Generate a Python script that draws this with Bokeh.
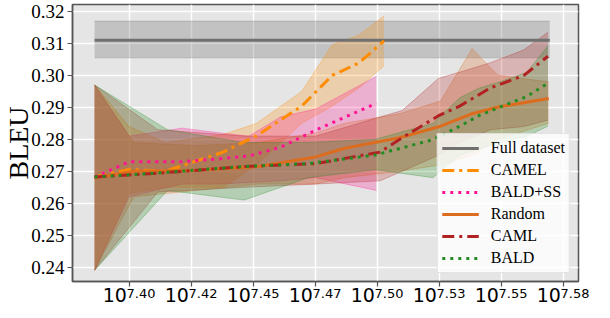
import json
from bokeh.plotting import figure
from bokeh.models import (FixedTicker, NumeralTickFormatter, Legend, LegendItem, Range1d,
                          LinearAxis, CustomJSTickFormatter)
from bokeh.embed import file_html
from bokeh.resources import INLINE

# x values are log10(number of training tokens)
full_x = [7.3861, 7.5696]
full_mean = [0.3110, 0.3110]
full_lo = [0.3055, 0.3055]
full_hi = [0.3170, 0.3170]

camel_x = [7.3861, 7.4000, 7.4147, 7.4379, 7.4514, 7.4696, 7.4819, 7.4927, 7.5028]
camel_mean = [0.2682, 0.2706, 0.2700, 0.2760, 0.2811, 0.2904, 0.3000, 0.3039, 0.3108]
camel_lo = [0.2390, 0.2630, 0.2650, 0.2650, 0.2720, 0.2850, 0.2904, 0.2961, 0.3030]
camel_hi = [0.2970, 0.2840, 0.2790, 0.2815, 0.2850, 0.2950, 0.3096, 0.3126, 0.3186]

baldss_x = [7.3861, 7.4000, 7.4213, 7.4367, 7.4483, 7.4611, 7.4753, 7.4997]
baldss_mean = [0.2682, 0.2730, 0.2730, 0.2739, 0.2748, 0.2775, 0.2829, 0.2913]
baldss_lo = [0.2390, 0.2620, 0.2660, 0.2660, 0.2665, 0.2670, 0.2680, 0.2640]
baldss_hi = [0.2970, 0.2810, 0.2835, 0.2820, 0.2810, 0.2870, 0.2895, 0.2997]

random_x = [7.3861, 7.4019, 7.4270, 7.4522, 7.4753, 7.4869, 7.5090, 7.5256, 7.5383, 7.5488, 7.5692]
random_mean = [0.2679, 0.2700, 0.2703, 0.2715, 0.2745, 0.2772, 0.2805, 0.2841, 0.2880, 0.2901, 0.2928]
random_lo = [0.2390, 0.2620, 0.2640, 0.2660, 0.2660, 0.2680, 0.2700, 0.2720, 0.2750, 0.2800, 0.2850]
random_hi = [0.2970, 0.2790, 0.2780, 0.2790, 0.2820, 0.2850, 0.2880, 0.2920, 0.3084, 0.3000, 0.2980]

caml_x = [7.3861, 7.4116, 7.4471, 7.4753, 7.5012, 7.5101, 7.5248, 7.5333, 7.5457, 7.5592, 7.5689]
caml_mean = [0.2682, 0.2694, 0.2715, 0.2724, 0.2760, 0.2805, 0.2874, 0.2904, 0.2961, 0.3000, 0.3060]
caml_lo = [0.2390, 0.2635, 0.2650, 0.2660, 0.2670, 0.2700, 0.2750, 0.2790, 0.2830, 0.2840, 0.2860]
caml_hi = [0.2970, 0.2830, 0.2810, 0.2810, 0.2870, 0.2890, 0.2991, 0.3010, 0.3040, 0.3080, 0.3135]

bald_x = [7.3861, 7.4155, 7.4464, 7.4723, 7.4993, 7.5225, 7.5333, 7.5410, 7.5495, 7.5604, 7.5689]
bald_mean = [0.2682, 0.2697, 0.2715, 0.2724, 0.2751, 0.2799, 0.2841, 0.2874, 0.2901, 0.2934, 0.2976]
bald_lo = [0.2390, 0.2640, 0.2610, 0.2680, 0.2705, 0.2680, 0.2750, 0.2770, 0.2790, 0.2810, 0.2841]
bald_hi = [0.2970, 0.2830, 0.2790, 0.2790, 0.2800, 0.2850, 0.2930, 0.2960, 0.2980, 0.3010, 0.3093]

xtick_vals = [7.400, 7.425, 7.450, 7.475, 7.500, 7.525, 7.550, 7.575]
xtick_base = "10"
xtick_exps = ["7.40", "7.42", "7.45", "7.47", "7.50", "7.53", "7.55", "7.58"]
ytick_vals = [0.24, 0.25, 0.26, 0.27, 0.28, 0.29, 0.30, 0.31, 0.32]

series = [
    ("Full dataset", full_x, full_mean, full_lo, full_hi, "#707070", None),
    ("CAMEL", camel_x, camel_mean, camel_lo, camel_hi, "#ff8c00", "12 5 3 5"),
    ("BALD+SS", baldss_x, baldss_mean, baldss_lo, baldss_hi, "#ff1493", "3 5"),
    ("Random", random_x, random_mean, random_lo, random_hi, "#dc6d1f", None),
    ("CAML", caml_x, caml_mean, caml_lo, caml_hi, "#b22222", "12 5 3 5"),
    ("BALD", bald_x, bald_mean, bald_lo, bald_hi, "#228b22", "3 5"),
]

W, H = 594, 310
BL, BR, BT, BB = 66, 16, 4, 29
XS, XE = 7.3772, 7.5812
YS, YE = 0.2355, 0.3222
scale = (W - BL - BR) / (XE - XS)   # px per x unit

p = figure(width=W, height=H, output_backend="svg", toolbar_location=None,
           x_range=Range1d(XS, XE), y_range=Range1d(YS, YE),
           min_border_top=BT, min_border_right=BR, min_border_bottom=BB, min_border_left=BL)
p.background_fill_color = "#e5e5e5"
p.border_fill_color = "white"
p.outline_line_color = "#555555"
p.outline_line_width = 1.5

p.grid.grid_line_color = "white"
p.grid.grid_line_width = 1.5
p.xaxis.ticker = FixedTicker(ticks=xtick_vals)
p.yaxis.ticker = FixedTicker(ticks=ytick_vals)
p.yaxis.formatter = NumeralTickFormatter(format="0.00")

for ax in (p.xaxis[0], p.yaxis[0]):
    ax.axis_line_color = "#555555"
    ax.axis_line_width = 1.5
    ax.major_tick_line_color = "#555555"
    ax.major_tick_line_width = 1.2
    ax.major_tick_out = 5
    ax.major_tick_in = 0
    ax.minor_tick_line_color = None

p.yaxis.major_label_text_font = "Liberation Serif"
p.yaxis.major_label_text_font_size = "19px"
p.yaxis.major_label_text_color = "black"
p.yaxis.major_label_standoff = 3
p.yaxis.axis_label = "BLEU"
p.yaxis.axis_label_text_font = "Liberation Serif"
p.yaxis.axis_label_text_font_size = "28px"
p.yaxis.axis_label_text_font_style = "normal"
p.yaxis.axis_label_text_color = "black"
p.yaxis.axis_label_standoff = -6

# main x axis: ticks only
p.xaxis.major_label_text_color = None
p.xaxis.major_label_text_font_size = "2px"
p.xaxis.major_label_standoff = 0

# tick labels "10^e": base and raised exponent on shifted copies of the x range
p.extra_x_ranges = {
    "base": Range1d(XS + 14.5 / scale, XE + 14.5 / scale),
    "exp": Range1d(XS - 12.1 / scale, XE - 12.1 / scale),
}
exp_axis = LinearAxis(x_range_name="exp", ticker=FixedTicker(ticks=xtick_vals),
                      formatter=CustomJSTickFormatter(code="return %s[index];" % json.dumps(xtick_exps)),
                      axis_line_color=None, major_tick_line_color=None, minor_tick_line_color=None,
                      major_tick_out=0, major_tick_in=0, major_label_standoff=2,
                      major_label_text_font="DejaVu Sans", major_label_text_font_size="13px",
                      major_label_text_color="black")
base_axis = LinearAxis(x_range_name="base", ticker=FixedTicker(ticks=xtick_vals),
                       formatter=CustomJSTickFormatter(code="return %s;" % json.dumps(xtick_base)),
                       axis_line_color=None, major_tick_line_color=None, minor_tick_line_color=None,
                       major_tick_out=0, major_tick_in=0, major_label_standoff=-13,
                       major_label_text_font="DejaVu Sans", major_label_text_font_size="19px",
                       major_label_text_color="black")
p.add_layout(exp_axis, "below")
p.add_layout(base_axis, "below")

# bands
for name, xs, m, lo, hi, c, dash in series:
    alpha = 0.3 if name == "Full dataset" else 0.25
    p.varea(x=xs, y1=lo, y2=hi, fill_color=c, fill_alpha=alpha)
    p.line(xs, lo, line_color=c, line_alpha=0.3, line_width=1)
    p.line(xs, hi, line_color=c, line_alpha=0.3, line_width=1)

items = []
for name, xs, m, lo, hi, c, dash in series:
    kw = {}
    if dash:
        kw["line_dash"] = dash
    r = p.line(xs, m, line_color=c, line_width=3, **kw)
    items.append(LegendItem(label=name, renderers=[r]))

legend = Legend(items=items, location="bottom_right")
legend.label_text_font = "Liberation Serif"
legend.label_text_font_size = "16px"
legend.label_text_color = "black"
legend.glyph_width = 37
legend.glyph_height = 20
legend.label_height = 20
legend.spacing = 2
legend.padding = 4
legend.margin = 8
legend.label_standoff = 12
legend.background_fill_color = "white"
legend.background_fill_alpha = 0.8
legend.border_line_color = "#cccccc"
legend.border_line_width = 1
p.add_layout(legend)

open("out.html", "w").write(file_html(p, INLINE))
